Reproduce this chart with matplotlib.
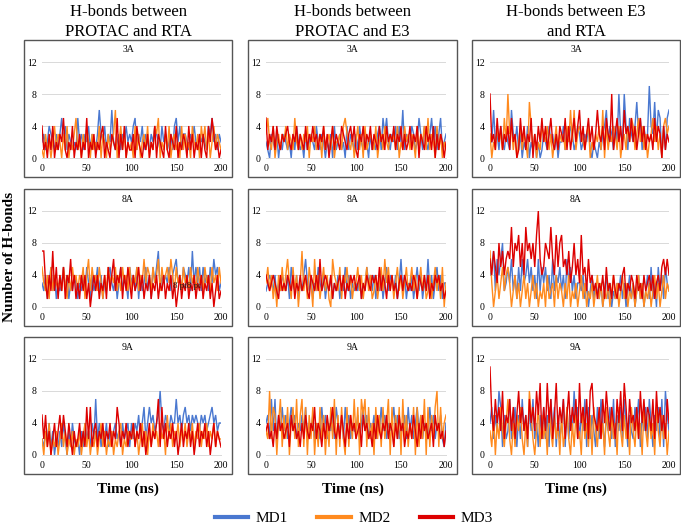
import matplotlib
matplotlib.use("Agg")
import matplotlib.pyplot as plt
from matplotlib.patches import Rectangle
from matplotlib.lines import Line2D
import numpy as np

plt.rcParams['font.family'] = ['Liberation Serif', 'DejaVu Serif']

col_titles = ["H-bonds between\nPROTAC and RTA", "H-bonds between\nPROTAC and E3", "H-bonds between E3\nand RTA"]
row_titles = ["3A", "8A", "9A"]
series_names = ["MD1", "MD2", "MD3"]
colors = ["#4A78D0", "#FF8A1E", "#DD0000"]
x_ticks = [0, 50, 100, 150, 200]
y_ticks = [0, 4, 8, 12]
time_ns = list(range(0, 201, 2))

# H-bond counts, one character per 2 ns (a=10, b=11, c=12)
hb_3A_RTA_MD1 = "2312432131 3524132121 5231324132 1363241326 2123132423 2451324132 1324321423 1231452413 3213242132 3214352313 2"
hb_3A_RTA_MD2 = "1031202413 2031402135 1203142031 2140320312 3602413021 2041302314 0214350213 1402312041 3120421304 2413024132 1"
hb_3A_RTA_MD3 = "4120314021 3251021402 1302150213 0213402103 2150314021 1304210213 0214032104 1032140213 2041302130 3104253120 1"

hb_3A_E3_MD1 = "2103213021 3212031421 2031232142 1320213041 2312041321 3142132031 2134153521 3241426132 2431253142 1352413512 3"
hb_3A_E3_MD2 = "3521402313 2413215213 1324032412 3041231402 2314532130 2413041232 1402314213 2314021423 1320413241 5132041302 1"
hb_3A_E3_MD3 = "5132414213 2342132413 2141324231 3241302413 2143213424 1032413241 3214231423 2413241312 4132403214 2314031320 2"

hb_3A_E3RTA_MD1 = "2262314213 2163241302 1402130201 3214231302 2413243124 3123241021 0213462431 4283284153 2473514239 4372650415 6"
hb_3A_E3RTA_MD2 = "3021423152 8341302413 2074130214 3241302413 2314262613 4321340213 2416041324 3140231425 4135241302 3524130453 4"
hb_3A_E3RTA_MD3 = "8231524132 4152301524 1325031425 2413521314 3251413524 6241352413 6324153281 3524163425 2413524132 3152430413 2"

hb_8A_RTA_MD1 = "3241352413 2352413243 1324253142 3524132453 2413524315 3425142352 4153572434 3524563425 4352735352 5342536452 3"
hb_8A_RTA_MD2 = "5324152432 4253142534 2435146253 4253142534 3524253425 2435243635 4253462534 5364253425 3425342534 2534253425 3"
hb_8A_RTA_MD3 = "7731427251 4251436241 3142413024 2413241524 6243514253 1423524132 4132413241 3241302413 2413241324 1324130241 2"

hb_8A_E3_MD1 = "2343241324 3241532413 2463241325 3241324132 4132524132 3241325342 4132413524 3241362413 2413524132 6241352413 3"
hb_8A_E3_MD2 = "3524130425 2463152403 7241530624 1352410643 2514352413 3524135241 2413526352 4135241352 3524135241 2413524150 3"
hb_8A_E3_MD3 = "4323432142 3243241324 2342143242 6234324132 3424132434 2341324324 3425243142 4231342432 3243143242 4132434231 2"

hb_8A_E3RTA_MD1 = "4572646823 5362415263 4635241625 3524162435 2416352413 3241302413 2130241302 1324130241 3024130241 5130524153 2"
hb_8A_E3RTA_MD2 = "7302413524 5302413024 1302413021 3041230413 2031402130 2413021302 4130213024 1302413021 3024130213 0241302413 2"
hb_8A_E3RTA_MD3 = "6475385746 76a5879584 a786859c64 5876a64958 9564735846 3945263423 1324152314 2132451324 3142314234 2413425646 4"

hb_9A_RTA_MD1 = "2132413021 3142031421 2031423142 7241324132 3423142341 4243524624 6453458435 4354474535 6453545435 4534564534 4"
hb_9A_RTA_MD2 = "2031402130 2413021302 1302413021 3024130213 0213402132 2413024130 3142314230 5241324132 4132413241 3241324132 2"
hb_9A_RTA_MD3 = "5251302413 5253142031 2413162613 4132413241 3264132413 2413241302 4132471624 1324130241 3241302413 2413024132 1"

hb_9A_E3_MD1 = "4527371536 3524635243 5362435243 2635243526 4352635243 3524635243 5243635243 4635243526 3524635243 2635243521 4"
hb_9A_E3_MD2 = "3282650471 5260462715 7160526041 6250416270 5162061527 2607571624 0625162470 6152607251 4260615270 6152681624 5"
hb_9A_E3_MD3 = "3423142534 2341534231 4253243624 3142534632 4253142534 2341534231 4253243524 3142534132 4253142534 2341534231 3"

hb_9A_E3RTA_MD1 = "4625386152 3724615273 5163724152 6251736152 4716253846 2537162531 6274153627 1536274153 2647153627 4153627185 3"
hb_9A_E3RTA_MD2 = "3150426314 7204153620 4185203615 2406315240 5136204152 3062415063 1524063152 4063152406 3152406315 2406315240 3"
hb_9A_E3RTA_MD3 = "b537463825 4736258463 5274638592 6394725936 4725836472 9463728954 3627485364 2748396274 5362847365 3728463527 4"

panels = [
    [(hb_3A_RTA_MD1, hb_3A_RTA_MD2, hb_3A_RTA_MD3),
     (hb_3A_E3_MD1, hb_3A_E3_MD2, hb_3A_E3_MD3),
     (hb_3A_E3RTA_MD1, hb_3A_E3RTA_MD2, hb_3A_E3RTA_MD3)],
    [(hb_8A_RTA_MD1, hb_8A_RTA_MD2, hb_8A_RTA_MD3),
     (hb_8A_E3_MD1, hb_8A_E3_MD2, hb_8A_E3_MD3),
     (hb_8A_E3RTA_MD1, hb_8A_E3RTA_MD2, hb_8A_E3RTA_MD3)],
    [(hb_9A_RTA_MD1, hb_9A_RTA_MD2, hb_9A_RTA_MD3),
     (hb_9A_E3_MD1, hb_9A_E3_MD2, hb_9A_E3_MD3),
     (hb_9A_E3RTA_MD1, hb_9A_E3RTA_MD2, hb_9A_E3RTA_MD3)],
]


def decode(s):
    return [int(c, 16) for c in s.replace(" ", "")]


W, H = 681, 528
fig = plt.figure(figsize=(W / 100, H / 100), dpi=100)

box_x = [(24, 232), (248, 457), (472, 680)]
box_y = [(40, 177), (189, 326), (337, 474)]


def fx(px):
    return px / W


def fy(py):
    return 1 - py / H


for r in range(3):
    for c in range(3):
        bx0, bx1 = box_x[c]
        by0, by1 = box_y[r]
        rect = Rectangle((fx(bx0), fy(by1)), fx(bx1 - bx0), (by1 - by0) / H,
                         transform=fig.transFigure, fill=False,
                         edgecolor="#555555", linewidth=1.0)
        fig.patches.append(rect)
        fig.text(fx((bx0 + bx1) / 2), fy(by0 + 10), row_titles[r],
                 ha="center", va="center", fontsize=7)
        pl, pr = bx0 + 18, bx1 - 11
        pt, pb = by0 + 22, by0 + 118
        ax = fig.add_axes([fx(pl), fy(pb), fx(pr - pl), (pb - pt) / H])
        for k in range(3):
            vals = decode(panels[r][c][k])
            ax.plot(time_ns, vals, color=colors[k], linewidth=1.0, solid_joinstyle="miter")
        ax.set_xlim(0, 200)
        ax.set_ylim(0, 12)
        ax.set_xticks(x_ticks)
        ax.set_yticks(y_ticks)
        ax.grid(axis="y", color="#D9D9D9", linewidth=0.7)
        ax.set_axisbelow(True)
        for s in ["left", "right", "top"]:
            ax.spines[s].set_visible(False)
        ax.spines["bottom"].set_color("#D9D9D9")
        ax.spines["bottom"].set_linewidth(0.7)
        ax.tick_params(length=0, labelsize=7, pad=4)
        if r == 1 and c == 0:
            ax.text(162, 2.6, "8 pt8 pt", fontsize=6.5, ha="center", va="center",
                    color="#222222")

for c in range(3):
    bx0, bx1 = box_x[c]
    fig.text(fx((bx0 + bx1) / 2), fy(22), col_titles[c], ha="center", va="center",
             fontsize=12, linespacing=1.3)
    fig.text(fx((bx0 + bx1) / 2), fy(489), "Time (ns)", ha="center", va="center",
             fontsize=11, fontweight="bold")

fig.text(fx(10), fy(257), "Number of H-bonds", rotation=90, ha="center", va="center",
         fontsize=11, fontweight="bold")

handles = [Line2D([0], [0], color=colors[k], linewidth=3) for k in range(3)]
fig.legend(handles, series_names, loc="center", bbox_to_anchor=(fx(354), fy(518)),
           ncol=3, frameon=False, fontsize=11, handlelength=2.2, columnspacing=1.9,
           handletextpad=0.5)

fig.savefig("out.png", dpi=100)
